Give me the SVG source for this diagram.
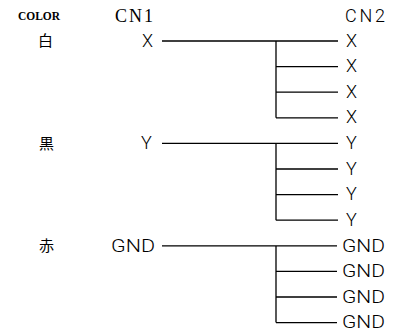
<svg xmlns="http://www.w3.org/2000/svg" width="400" height="335" viewBox="0 0 400 335">
<style>
.t{font-family:Roboto,"Liberation Sans",Arial,sans-serif;font-weight:300;font-size:18px;fill:#000}
.cj{font-family:"Noto Sans CJK JP","Noto Sans CJK SC",sans-serif;font-size:15px;fill:#000}
.w{stroke:#000;stroke-width:1.3;fill:none}
</style>
<rect width="400" height="335" fill="#fff"/>
<g id="header">
<text x="18" y="20" font-family="Liberation Serif,serif" font-weight="bold" font-size="13" textLength="42" lengthAdjust="spacingAndGlyphs">COLOR</text>
<text x="115" y="22" font-family="Liberation Serif,serif" font-size="18" textLength="38" lengthAdjust="spacing">CN1</text>
<text x="345" y="22" class="t" textLength="40" lengthAdjust="spacing">CN2</text>
</g>
<g id="color-labels">
<text x="38" y="46" class="cj">白</text>
<text x="39" y="149" class="cj">黒</text>
<text x="39" y="251" class="cj">赤</text>
</g>
<g id="cn1">
<text x="142" y="47" class="t">X</text>
<text x="141" y="149" class="t">Y</text>
<text x="111" y="252" class="t" textLength="44" lengthAdjust="spacingAndGlyphs">GND</text>
</g>
<g id="cn2">
<text x="346" y="47" class="t">X</text>
<text x="346" y="72" class="t">X</text>
<text x="346" y="98" class="t">X</text>
<text x="346" y="123" class="t">X</text>
<text x="346" y="149" class="t">Y</text>
<text x="346" y="175" class="t">Y</text>
<text x="346" y="200" class="t">Y</text>
<text x="346" y="226" class="t">Y</text>
<text x="342" y="252" class="t" textLength="43" lengthAdjust="spacingAndGlyphs">GND</text>
<text x="342" y="277" class="t" textLength="43" lengthAdjust="spacingAndGlyphs">GND</text>
<text x="342" y="303" class="t" textLength="43" lengthAdjust="spacingAndGlyphs">GND</text>
<text x="342" y="328" class="t" textLength="43" lengthAdjust="spacingAndGlyphs">GND</text>
</g>
<g id="connectors" class="w">
<path d="M162 41H338M276 41V117.8M276 66.6H338M276 92.2H338M276 117.8H338"/>
<path d="M162 143.4H338M276 143.4V220.2M276 169H338M276 194.6H338M276 220.2H338"/>
<path d="M162 245.8H337M276 245.8V322.6M276 271.4H337M276 297H337M276 322.6H337"/>
</g>
</svg>
